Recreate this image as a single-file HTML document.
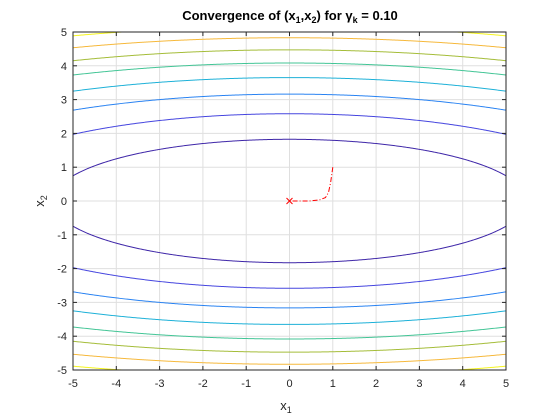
<!DOCTYPE html>
<html><head><meta charset="utf-8"><style>
body{margin:0;background:#fff;}
svg{display:block;font-family:"Liberation Sans",sans-serif;}
</style></head><body>
<svg id="c" width="560" height="420">
<rect width="560" height="420" fill="#fff"/>
<defs><clipPath id="clip"><rect x="73" y="32" width="433" height="338"/></clipPath></defs>
<rect x="73" y="32" width="433" height="338" fill="#fff"/>
<g id="grid"></g>
<g id="contours" clip-path="url(#clip)"></g>
<g id="traj"></g>
<rect x="73" y="32" width="433" height="338" fill="none" stroke="#262626" stroke-width="1"/>
<g id="ticks"></g>
<text x="290" y="20" text-anchor="middle" font-size="13" font-weight="bold" fill="#000">Convergence of (x<tspan font-size="9" dy="3">1</tspan><tspan dy="-3">,x</tspan><tspan font-size="9" dy="3">2</tspan><tspan dy="-3">) for γ</tspan><tspan font-size="9" dy="3">k</tspan><tspan dy="-3"> = 0.10</tspan></text>
<text x="286" y="410" text-anchor="middle" font-size="13" fill="#262626">x<tspan font-size="9" dy="3">1</tspan></text>
<text transform="translate(44,201) rotate(-90)" text-anchor="middle" font-size="13" fill="#262626">x<tspan font-size="9" dy="3">2</tspan></text>
</svg>
<script>
const levels=[30,60,90,120,150,180,210,240];
const levelColors=['#3e26a8','#4646df','#2a83f2','#1eb1d8','#43c596','#a5bd3a','#f6b93c','#f6f51e'];
const ticks=[-5,-4,-3,-2,-1,0,1,2,3,4,5];
const trajX=[1,0.95,0.9,0.83,0.69,0.46,0];
const trajY=[1,0.55,0.25,0.1,0.03,0,0];
const NS='http://www.w3.org/2000/svg';
const X0=73,X1=506,Y0=370,Y1=32;
const sx=v=>X0+(v+5)/10*(X1-X0);
const sy=v=>Y0-(v+5)/10*(Y0-Y1);
function mk(t,a,p){const e=document.createElementNS(NS,t);for(const k in a)e.setAttribute(k,a[k]);p.appendChild(e);return e;}
const grid=document.getElementById('grid'),tk=document.getElementById('ticks');
ticks.forEach(t=>{
 let g=mk('line',{x1:sx(t),x2:sx(t),y1:Y0,y2:Y1,stroke:'#dfdfdf','stroke-width':1},grid);
 
 
 g=mk('line',{x1:X0,x2:X1,y1:sy(t),y2:sy(t),stroke:'#dfdfdf','stroke-width':1},grid);
 
 
 let l=mk('text',{x:sx(t),y:Y0+17,'text-anchor':'middle','font-size':11,fill:'#262626'},tk);l.textContent=t;
 
 
 l=mk('text',{x:X0-6,y:sy(t)+4,'text-anchor':'end','font-size':11,fill:'#262626'},tk);l.textContent=t;
 
 
 mk('line',{x1:sx(t),x2:sx(t),y1:Y0,y2:Y0-4,stroke:'#262626'},tk);
 mk('line',{x1:sx(t),x2:sx(t),y1:Y1,y2:Y1+4,stroke:'#262626'},tk);
 mk('line',{x1:X0,x2:X0+4,y1:sy(t),y2:sy(t),stroke:'#262626'},tk);
 mk('line',{x1:X1,x2:X1-4,y1:sy(t),y2:sy(t),stroke:'#262626'},tk);
});
const cg=document.getElementById('contours');
levels.forEach((L,i)=>{
 [1,-1].forEach(s=>{
  let d='',first=true;
  for(let k=0;k<=400;k++){const x=-5+k*10/400;const r=(L-x*x)/9;if(r<0){first=true;continue;}
   const y=s*Math.sqrt(r);d+=(first?'M':'L')+sx(x).toFixed(2)+','+sy(y).toFixed(2);first=false;}
  const p=mk('path',{d:d,fill:'none',stroke:levelColors[i],'stroke-width':1},cg);
  
  
 });
});
const tg=document.getElementById('traj');
let d=trajX.map((x,i)=>(i?'L':'M')+sx(x)+','+sy(trajY[i])).join('');
const tp=mk('path',{d:d,fill:'none',stroke:'#ff0000','stroke-width':1,'stroke-dasharray':'5,2,1,2'},tg);


const n=trajX.length-1,mx=sx(trajX[n]),my=sy(trajY[n]);
const m=mk('path',{d:`M${mx-3},${my-3}L${mx+3},${my+3}M${mx-3},${my+3}L${mx+3},${my-3}`,stroke:'#ff0000','stroke-width':1},tg);


</script>
</body></html>
